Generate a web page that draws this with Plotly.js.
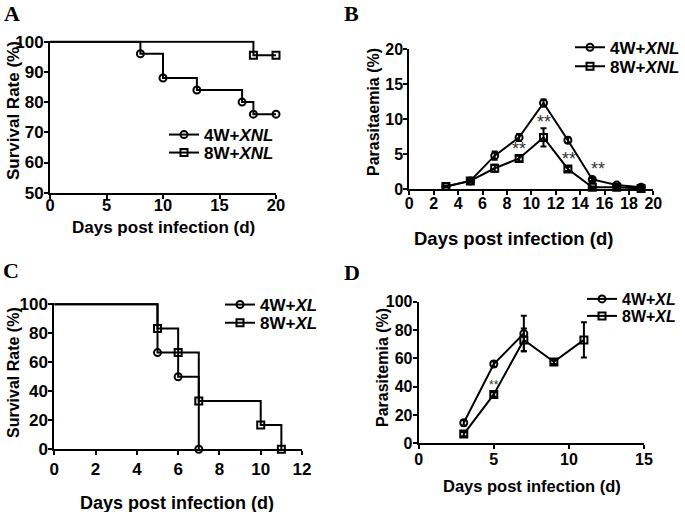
<!DOCTYPE html>
<html>
<head>
<meta charset="utf-8">
<script src="https://cdn.plot.ly/plotly-3.0.1.min.js"></script>
<style>html,body{margin:0;padding:0;background:#fff;}#chart{width:685px;height:512px;}</style>
</head>
<body>
<div id="chart"></div>
<script>
// ---------- DATA ----------
// Panel A: survival (Kaplan-Meier), XNL
const a4Days = [8, 10, 13, 17, 18, 20];
const a4Surv = [96, 88, 84, 80, 76, 76];
const a8Days = [18, 20];
const a8Surv = [95.5, 95.5];

// Panel B: parasitaemia, XNL
const bDays = [3, 5, 7, 9, 11, 13, 15, 17, 19];
const b4Mean = [0.4, 1.2, 4.8, 7.4, 12.3, 7.0, 1.4, 0.6, 0.3];
const b4Err  = [0.1, 0.2, 0.6, 0.5, 0.5, 0.4, 0.2, 0.1, 0.1];
const b8Mean = [0.4, 1.2, 3.0, 4.4, 7.4, 2.9, 0.3, 0.3, 0.1];
const b8Err  = [0.1, 0.2, 0.5, 0.4, 1.3, 0.3, 0.1, 0.1, 0.1];
const bStarDays = [9, 11, 13.1, 15.5];
const bStarY = [5.8, 9.6, 4.3, 2.85];

// Panel C: survival, XL
const c4Days = [5, 6, 7];
const c4Surv = [66.7, 50, 0];
const c8Days = [5, 6, 7, 10, 11];
const c8Surv = [83.3, 66.7, 33.3, 16.7, 0];

// Panel D: parasitemia, XL
const d4Days = [3, 5, 7];
const d4Mean = [14.5, 56, 77.5];
const d4Err  = [2, 2, 12.5];
const d8Days = [3, 5, 7, 9, 11];
const d8Mean = [6.5, 34.5, 73, 57.5, 73];
const d8Err  = [1.5, 1.5, 8, 1.5, 12.4];
const dStarDays = [5];
const dStarY = [41];

const seriesXNL = ['4W+<i>XNL</i>', '8W+<i>XNL</i>'];
const seriesXL = ['4W+<i>XL</i>', '8W+<i>XL</i>'];

// ---------- LAYOUT HELPERS ----------
const W = 685, H = 512;
const fx = p => p / W;
const fy = p => 1 - p / H;
const FONT = '"Liberation Sans", Arial, Helvetica, sans-serif';
const BLACK = '#000';

function axis(domainPx, range, tickvals, fontSize, anchor, vertical, standoff) {
  const dom = vertical ? [fy(domainPx[1]), fy(domainPx[0])] : [fx(domainPx[0]), fx(domainPx[1])];
  return {
    domain: dom, range: range, tickvals: tickvals, ticks: 'outside', ticklen: 4, tickwidth: 2,
    tickcolor: BLACK, showline: true, linewidth: 2, linecolor: BLACK, showgrid: false,
    zeroline: false, anchor: anchor, fixedrange: true, ticklabelstandoff: standoff || 0,
    tickfont: {family: FONT, size: fontSize, color: BLACK, weight: 'bold'}
  };
}

const traces = [];
const mk = (sym) => ({symbol: sym, size: 7, color: BLACK, line: {width: 2, color: BLACK}});

function kmTraces(days, surv, sym, xa, ya) {
  traces.push({x: [0].concat(days), y: [100].concat(surv), mode: 'lines', line: {shape: 'hv', color: BLACK, width: 2},
    xaxis: xa, yaxis: ya, showlegend: false, hoverinfo: 'skip'});
  traces.push({x: days, y: surv, mode: 'markers', marker: mk(sym), cliponaxis: false,
    xaxis: xa, yaxis: ya, showlegend: false, hoverinfo: 'skip'});
}
function meanTrace(days, mean, err, sym, xa, ya) {
  traces.push({x: days, y: mean, mode: 'lines+markers', line: {color: BLACK, width: 2}, marker: mk(sym),
    error_y: {type: 'data', array: err, visible: true, color: BLACK, thickness: 2, width: 3},
    cliponaxis: false, xaxis: xa, yaxis: ya, showlegend: false, hoverinfo: 'skip'});
}
function legendTrace(name, sym, legendId) {
  traces.push({x: [null], y: [null], name: name, mode: 'lines+markers', line: {color: BLACK, width: 2},
    marker: mk(sym), xaxis: 'x', yaxis: 'y', legend: legendId, showlegend: true, hoverinfo: 'skip'});
}

// Panel A
kmTraces(a4Days, a4Surv, 'circle-open', 'x', 'y');
kmTraces(a8Days, a8Surv, 'square-open', 'x', 'y');
// Panel B
meanTrace(bDays, b4Mean, b4Err, 'circle-open', 'x2', 'y2');
meanTrace(bDays, b8Mean, b8Err, 'square-open', 'x2', 'y2');
// Panel C
kmTraces(c4Days, c4Surv, 'circle-open', 'x3', 'y3');
kmTraces(c8Days, c8Surv, 'square-open', 'x3', 'y3');
// Panel D
meanTrace(d4Days, d4Mean, d4Err, 'circle-open', 'x4', 'y4');
meanTrace(d8Days, d8Mean, d8Err, 'square-open', 'x4', 'y4');

// Legends (one per row for spacing control)
legendTrace(seriesXNL[0], 'circle-open', 'legend');
legendTrace(seriesXNL[1], 'square-open', 'legend2');
legendTrace(seriesXNL[0], 'circle-open', 'legend3');
legendTrace(seriesXNL[1], 'square-open', 'legend4');
legendTrace(seriesXL[0], 'circle-open', 'legend5');
legendTrace(seriesXL[1], 'square-open', 'legend6');
legendTrace(seriesXL[0], 'circle-open', 'legend7');
legendTrace(seriesXL[1], 'square-open', 'legend8');

function leg(textLeftPx, centerYPx, size) {
  return {x: fx(textLeftPx - 40), y: fy(centerYPx), xanchor: 'left', yanchor: 'middle', xref: 'paper', yref: 'paper',
    bgcolor: 'rgba(0,0,0,0)', borderwidth: 0, itemwidth: 30,
    font: {family: FONT, size: size, color: BLACK, weight: 'bold'}};
}

const annotations = [];
function label(text, xPx, yPx, size, angle, family) {
  annotations.push({text: text, x: fx(xPx), y: fy(yPx), xref: 'paper', yref: 'paper', showarrow: false,
    xanchor: 'center', yanchor: 'middle', textangle: angle || 0,
    font: {family: family || FONT, size: size, color: BLACK, weight: 'bold'}});
}
function stars(days, ys, xa, ya, size) {
  days.forEach((d, i) => annotations.push({text: '**', x: d, y: ys[i], xref: xa, yref: ya, showarrow: false,
    xanchor: 'center', yanchor: 'middle', font: {family: FONT, size: size, color: '#333'}}));
}

// Panel letters
const SERIF = '"Liberation Serif", "Times New Roman", serif';
label('A', 12, 13, 22, 0, SERIF);
label('B', 351, 13, 22, 0, SERIF);
label('C', 11, 270, 22, 0, SERIF);
label('D', 352, 272, 22, 0, SERIF);

// Axis titles
label('Days post infection (d)', 163, 227, 17);
label('Survival Rate (%)', 13, 111, 17, -90);
label('Days post infection (d)', 513, 238, 18.5);
label('Parasitaemia (%)', 373, 112, 16, -90);
label('Days post infection (d)', 177, 503, 18);
label('Survival Rate (%)', 13, 373, 16, -90);
label('Days post infection (d)', 532, 486, 16.5);
label('Parasitemia (%)', 382, 368, 16, -90);

stars(bStarDays, bStarY, 'x2', 'y2', 18);
stars(dStarDays, dStarY, 'x4', 'y4', 12);

const layout = {
  width: W, height: H, margin: {l: 0, r: 0, t: 0, b: 0},
  paper_bgcolor: '#fff', plot_bgcolor: '#fff', showlegend: true,
  xaxis: axis([50, 276], [0, 20], [0, 5, 10, 15, 20], 16.5, 'y', false, -8),
  yaxis: axis([40.5, 192.7], [50, 100.4], [50, 60, 70, 80, 90, 100], 17, 'x', true, -3),
  xaxis2: axis([409.3, 653.3], [0, 20], [0, 2, 4, 6, 8, 10, 12, 14, 16, 18, 20], 16, 'y2', false, -6),
  yaxis2: axis([49, 189.3], [0, 20], [0, 5, 10, 15, 20], 16, 'x2', true, -3),
  xaxis3: axis([54.3, 302], [0, 12], [0, 2, 4, 6, 8, 10, 12], 17, 'y3', false, -1),
  yaxis3: axis([302.85, 449.3], [0, 101], [0, 20, 40, 60, 80, 100], 17, 'x3', true, -3),
  xaxis4: axis([418.7, 644], [0, 15], [0, 5, 10, 15], 16, 'y4', false, -4),
  yaxis4: axis([301.7, 443.3], [0, 100], [0, 20, 40, 60, 80, 100], 16, 'x4', true, -3),
  legend: leg(204, 135, 17),
  legend2: leg(204, 153, 17),
  legend3: leg(610, 47.7, 17),
  legend4: leg(610, 66.7, 17),
  legend5: leg(260, 305, 17),
  legend6: leg(260, 323.3, 17),
  legend7: leg(622, 299, 16),
  legend8: leg(622, 316, 16),
  annotations: annotations
};

Plotly.newPlot('chart', traces, layout, {staticPlot: true, displayModeBar: false});
</script>
</body>
</html>
